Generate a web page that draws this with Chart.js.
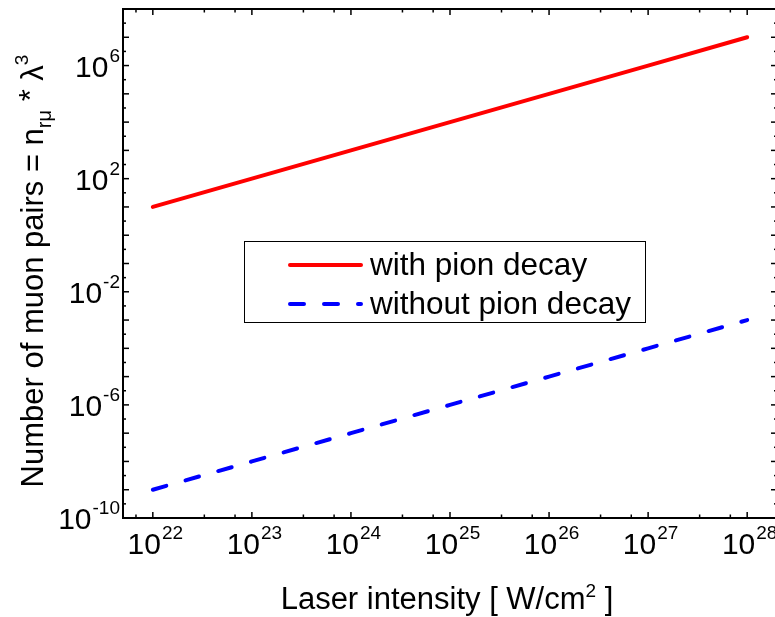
<!DOCTYPE html>
<html lang="en">
<head>
<meta charset="UTF-8">
<title>Number of muon pairs vs laser intensity</title>
<script src="https://cdn.jsdelivr.net/npm/chart.js"></script>
<style>
    html, body { margin: 0; padding: 0; background: #fff; overflow: hidden; }
    #wrap { width: 775px; height: 617px; overflow: hidden; }
</style>
</head>
<body>
<div id="wrap"><canvas id="chart" width="780" height="617"></canvas></div>
<script>
// laser intensity [W/cm^2] and number of muon pairs n_rmu * lambda^3
const intensity = [1e22, 1e23, 1e24, 1e25, 1e26, 1e27, 1e28];
const withPionDecay = [1e1, 1e2, 1e3, 1e4, 1e5, 1e6, 1e7];
const withoutPionDecay = [1e-9, 1e-8, 1e-7, 1e-6, 1e-5, 1e-4, 1e-3];
const seriesNames = ['with pion decay', 'without pion decay'];
const xTickExps = [22, 23, 24, 25, 26, 27, 28];
const yTickExps = [-10, -6, -2, 2, 6];

const FONT = '"Liberation Sans", Arial, sans-serif';

function toPoints(ys) {
    return intensity.map((x, i) => ({ x: x, y: ys[i] }));
}

// draws "10" with a raised exponent
function drawPow(ctx, x, y, exp, align) {
    const base = '10', sup = String(exp);
    ctx.font = '30px ' + FONT;
    const w1 = ctx.measureText(base).width;
    ctx.font = '19px ' + FONT;
    const w2 = ctx.measureText(sup).width;
    const total = w1 + w2;
    let start = align === 'right' ? x - total : x - total / 2;
    ctx.font = '30px ' + FONT;
    ctx.fillText(base, start, y);
    ctx.font = '19px ' + FONT;
    ctx.fillText(sup, start + w1 + 1, y - 15);
}

function drawPieces(ctx, x, y, pieces) {
    let cx = x;
    pieces.forEach(p => {
        ctx.font = p.size + 'px ' + FONT;
        ctx.fillText(p.t, cx, y + (p.dy || 0));
        cx += ctx.measureText(p.t).width;
    });
}

function piecesWidth(ctx, pieces) {
    let w = 0;
    pieces.forEach(p => {
        ctx.font = p.size + 'px ' + FONT;
        w += ctx.measureText(p.t).width;
    });
    return w;
}

const axesPlugin = {
    id: 'matlabAxes',
    afterDraw(chart) {
        const ctx = chart.ctx;
        const xs = chart.scales.x, ys = chart.scales.y;
        const a = chart.chartArea;
        ctx.save();
        ctx.strokeStyle = '#000';
        ctx.fillStyle = '#000';

        // frame
        ctx.lineWidth = 2;
        ctx.strokeRect(a.left, a.top, a.right - a.left, a.bottom - a.top);

        function seg(x1, y1, x2, y2) {
            ctx.beginPath(); ctx.moveTo(x1, y1); ctx.lineTo(x2, y2); ctx.stroke();
        }
        ctx.lineWidth = 1.5;
        function tickX(v, len) {
            const px = xs.getPixelForValue(v);
            if (px < a.left + 1 || px > a.right - 1) return;
            seg(px, a.bottom, px, a.bottom - len);
            seg(px, a.top, px, a.top + len);
        }
        function tickY(v, len) {
            const py = ys.getPixelForValue(v);
            if (py < a.top + 1 || py > a.bottom - 1) return;
            seg(a.left, py, a.left + len, py);
            seg(a.right, py, a.right - len, py);
        }
        for (let e = 21; e <= 28; e++) {
            tickX(Math.pow(10, e), 6);
            tickX(Math.pow(10, e + 0.52), 3.5);
            tickX(Math.pow(10, e + 0.83), 3.5);
        }
        for (let e = -10; e <= 8; e++) {
            tickY(Math.pow(10, e), 6);
            tickY(Math.pow(10, e + 0.5), 3);
        }

        // tick labels
        ctx.textBaseline = 'alphabetic';
        ctx.textAlign = 'left';
        xTickExps.forEach(e => {
            drawPow(ctx, xs.getPixelForValue(Math.pow(10, e)) + 2, a.bottom + 36, e, 'center');
        });
        yTickExps.forEach(e => {
            drawPow(ctx, a.left - 4, ys.getPixelForValue(Math.pow(10, e)) + 11, e, 'right');
        });

        // x title
        const xt = [
            { t: 'Laser intensity [ W/cm', size: 31 },
            { t: '2', size: 19, dy: -12 },
            { t: ' ]', size: 31 }
        ];
        const xw = piecesWidth(ctx, xt);
        drawPieces(ctx, (a.left + a.right) / 2 - 3 - xw / 2, 609, xt);

        // y title, rotated
        const yt = [
            { t: 'Number of muon pairs = n', size: 31 },
            { t: 'rμ', size: 20, dy: 8 },
            { t: ' * ', size: 31, dy: -2 },
            { t: 'λ', size: 31 },
            { t: '3', size: 19, dy: -15 }
        ];
        const yw = piecesWidth(ctx, yt);
        ctx.save();
        ctx.translate(43, 271);
        ctx.rotate(-Math.PI / 2);
        drawPieces(ctx, -yw / 2, 0, yt);
        ctx.restore();

        // legend box
        const lg = { left: 244, top: 241, right: 645, bottom: 322 };
        ctx.fillStyle = '#fff';
        ctx.fillRect(lg.left, lg.top, lg.right - lg.left, lg.bottom - lg.top);
        ctx.strokeStyle = '#000';
        ctx.lineWidth = 1;
        ctx.strokeRect(lg.left + 0.5, lg.top + 0.5, lg.right - lg.left, lg.bottom - lg.top);
        chart.data.datasets.forEach((ds, i) => {
            const yRow = 265 + i * 39;
            ctx.strokeStyle = ds.borderColor;
            ctx.lineWidth = ds.borderWidth;
            ctx.lineCap = ds.borderCapStyle || 'butt';
            ctx.setLineDash(ds.borderDash || []);
            seg(290, yRow, 361, yRow);
            ctx.setLineDash([]);
            ctx.fillStyle = '#000';
            ctx.font = '31.5px ' + FONT;
            ctx.fillText(ds.label, 370, yRow + 10);
        });
        ctx.restore();
    }
};

new Chart(document.getElementById('chart'), {
    type: 'line',
    data: {
        datasets: [
            {
                label: seriesNames[0],
                data: toPoints(withPionDecay),
                borderColor: '#ff0000',
                borderWidth: 4,
                borderCapStyle: 'round',
                pointRadius: 0,
                fill: false
            },
            {
                label: seriesNames[1],
                data: toPoints(withoutPionDecay),
                borderColor: '#0000ff',
                borderWidth: 4,
                borderCapStyle: 'round',
                borderDash: [14, 20],
                pointRadius: 0,
                fill: false
            }
        ]
    },
    options: {
        responsive: false,
        animation: false,
        devicePixelRatio: 1,
        layout: { padding: { left: 123, top: 9, right: 3, bottom: 99 } },
        plugins: { legend: { display: false }, tooltip: { enabled: false } },
        scales: {
            x: { type: 'logarithmic', min: 5e21, max: 2e28, display: false },
            y: { type: 'logarithmic', min: 1e-10, max: 1e8, display: false }
        }
    },
    plugins: [axesPlugin]
});
</script>
</body>
</html>
